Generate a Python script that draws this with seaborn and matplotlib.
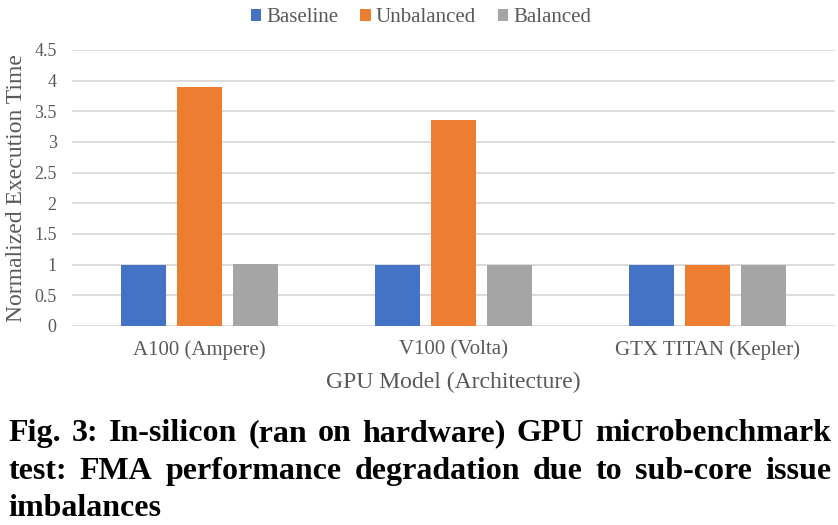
import matplotlib
matplotlib.use("Agg")
import matplotlib.pyplot as plt
from matplotlib.patches import Patch
import numpy as np
import pandas as pd
import seaborn as sns

# ---- data ----
gpus = ["A100 (Ampere)", "V100 (Volta)", "GTX TITAN (Kepler)"]
series_names = ["Baseline", "Unbalanced", "Balanced"]
baseline = [1.0, 1.0, 1.0]
unbalanced = [3.89, 3.36, 1.0]
balanced = [1.01, 1.0, 1.0]
colors = ["#4472C4", "#ED7D31", "#A5A5A5"]
yticks = [0, 0.5, 1, 1.5, 2, 2.5, 3, 3.5, 4, 4.5]
ytick_labels = ["0", "0.5", "1", "1.5", "2", "2.5", "3", "3.5", "4", "4.5"]
xlabel = "GPU Model (Architecture)"
ylabel = "Normalized Execution Time"
caption_lines = [
    "Fig. 3: In-silicon (ran on hardware) GPU microbenchmark",
    "test: FMA performance degradation due to sub-core issue",
    "imbalances",
]

df = pd.DataFrame({
    "gpu": gpus * 3,
    "series": [s for s in series_names for _ in gpus],
    "value": baseline + unbalanced + balanced,
})

sns.set_style("white")
plt.rcParams["font.family"] = ["Liberation Serif", "DejaVu Serif"]

W, H = 838, 525
fig = plt.figure(figsize=(W / 100, H / 100), dpi=100)
ax = fig.add_axes([72 / W, 1 - 326 / H, (835 - 72) / W, (326 - 50) / H])

sns.barplot(data=df, x="gpu", y="value", hue="series", order=gpus,
            hue_order=series_names, palette=colors, width=0.66, gap=0.2,
            ax=ax, legend=False, edgecolor="none", saturation=1)

ax.set_ylim(0, 4.5)
ax.set_xlim(-0.5, 2.5)
ax.set_yticks(yticks)
ax.set_yticklabels(ytick_labels)
ax.yaxis.grid(True, color="#D9D9D9", linewidth=1.3, zorder=0)
ax.set_axisbelow(True)
for sp in ax.spines.values():
    sp.set_visible(False)
ax.tick_params(axis="both", length=0, colors="#595959")
ax.tick_params(axis="y", labelsize=13, pad=11)
ax.tick_params(axis="x", labelsize=15, pad=10)
ax.set_xlabel(xlabel, fontsize=17, color="#595959", labelpad=9)
ax.set_ylabel(ylabel, fontsize=17, color="#595959", labelpad=5)

handles = [Patch(facecolor=c, edgecolor="none") for c in colors]
fig.legend(handles, series_names, loc="center", bbox_to_anchor=(421 / W, 1 - 18 / H),
           ncol=3, frameon=False, fontsize=15, handlelength=0.5, handleheight=0.5,
           handletextpad=0.25, columnspacing=1.05, labelcolor="#595959",
           borderaxespad=0, borderpad=0)

# ---- caption, justified ----
renderer = fig.canvas.get_renderer()
left_px, right_px = 8, 831
baselines = [441, 479, 516]
fs = 23
for i, line in enumerate(caption_lines):
    yb = 1 - baselines[i] / H
    words = line.split(" ")
    if i < len(caption_lines) - 1:
        texts = [fig.text(0, yb, w, fontsize=fs, fontweight="bold", color="black",
                          va="baseline", ha="left") for w in words]
        widths = [t.get_window_extent(renderer).width for t in texts]
        gap = (right_px - left_px - sum(widths)) / (len(words) - 1)
        x = left_px
        for t, w in zip(texts, widths):
            t.set_x(x / W)
            x += w + gap
    else:
        fig.text(left_px / W, yb, line, fontsize=fs, fontweight="bold",
                 color="black", va="baseline", ha="left")

fig.savefig("out.png", dpi=100)
